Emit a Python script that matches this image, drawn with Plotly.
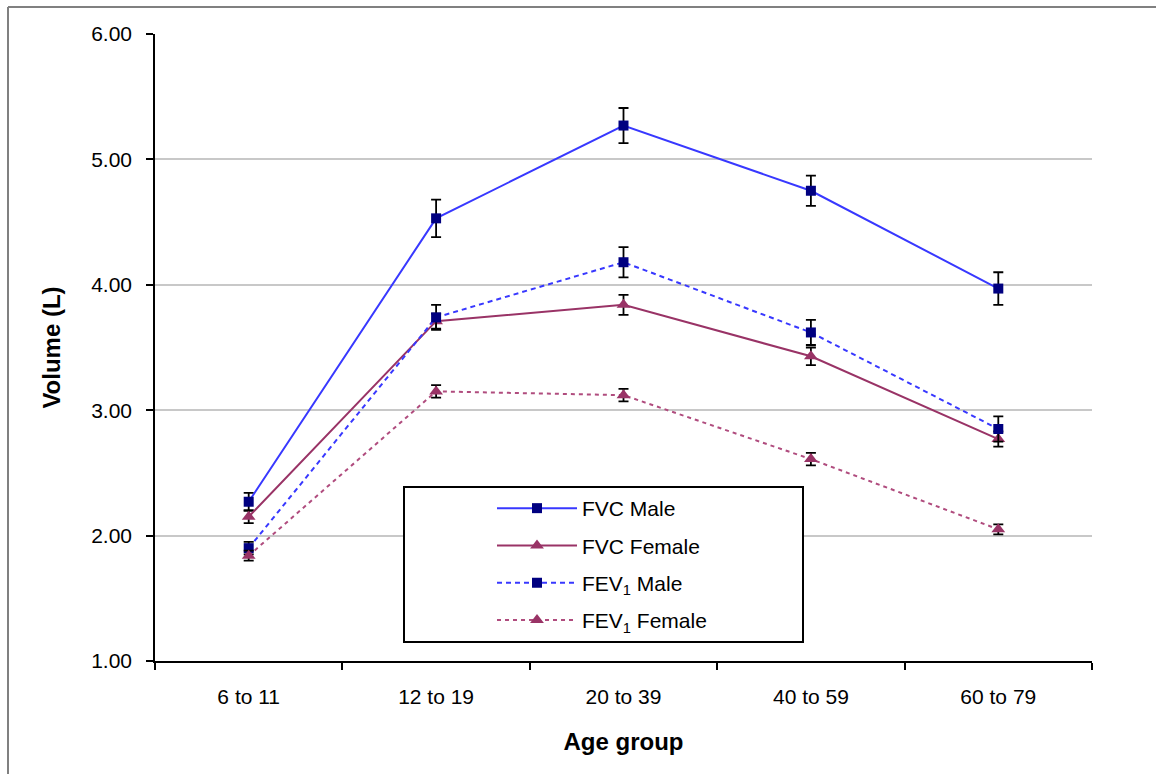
import plotly.graph_objects as go

age_groups = ["6 to 11", "12 to 19", "20 to 39", "40 to 59", "60 to 79"]

fvc_male = [2.27, 4.53, 5.27, 4.75, 3.97]
fvc_male_err = [0.07, 0.15, 0.14, 0.12, 0.13]

fvc_female = [2.15, 3.71, 3.84, 3.43, 2.77]
fvc_female_err = [0.05, 0.06, 0.08, 0.07, 0.06]

fev1_male = [1.90, 3.74, 4.18, 3.62, 2.85]
fev1_male_err = [0.05, 0.10, 0.12, 0.10, 0.10]

fev1_female = [1.84, 3.15, 3.12, 2.61, 2.05]
fev1_female_err = [0.04, 0.05, 0.05, 0.05, 0.04]

y_ticks = [1, 2, 3, 4, 5, 6]

FONT = "Liberation Sans, Arial, sans-serif"

fig = go.Figure()

def add(name, y, err, line_color, dash, marker_symbol, marker_color, msize, group):
    fig.add_trace(go.Scatter(
        x=age_groups, y=y, name=name, mode="lines+markers",
        legendgroup=group,
        line=dict(color=line_color, width=2, dash=dash),
        marker=dict(symbol=marker_symbol, color=marker_color, size=msize,
                    line=dict(width=0)),
        error_y=dict(type="data", array=err, visible=True, color="black",
                     thickness=1.8, width=5),
    ))

add("FVC Male", fvc_male, fvc_male_err, "#3838FF", "solid", "square", "#000080", 10, "a")
add("FVC Female", fvc_female, fvc_female_err, "#993366", "solid", "triangle-up", "#993366", 12, "b")
add("FEV<sub>1</sub> Male", fev1_male, fev1_male_err, "#3838FF", "5px,4px", "square", "#000080", 10, "c")
add("FEV<sub>1</sub> Female", fev1_female, fev1_female_err, "#B04C7E", "4px,4px", "triangle-up", "#993366", 12, "d")

def px_x(px):
    return (px - 155) / 937.0

def px_y(py):
    return (661 - py) / 627.0

shapes = [
    # legend box
    dict(type="rect", xref="paper", yref="paper",
         x0=px_x(404), x1=px_x(803), y0=px_y(642), y1=px_y(487),
         line=dict(color="black", width=2), fillcolor="white", layer="above"),
    # outer frame (top and left edges)
    dict(type="line", xref="paper", yref="paper",
         x0=px_x(8), x1=px_x(1160), y0=px_y(7), y1=px_y(7),
         line=dict(color="#808080", width=2)),
    dict(type="line", xref="paper", yref="paper",
         x0=px_x(8), x1=px_x(8), y0=px_y(7), y1=px_y(780),
         line=dict(color="#808080", width=2)),
]

fig.update_layout(
    width=1156, height=774,
    margin=dict(l=155, r=64, t=34, b=113),
    paper_bgcolor="white", plot_bgcolor="white",
    font=dict(family=FONT, color="black"),
    shapes=shapes,
    showlegend=True,
    legend=dict(
        x=px_x(492), y=px_y(488), xanchor="left", yanchor="top",
        bgcolor="rgba(0,0,0,0)", borderwidth=0,
        font=dict(family=FONT, size=21, color="black"),
        tracegroupgap=7, itemwidth=80,
    ),
    xaxis=dict(
        type="category", range=[-0.5, 4.5],
        showline=True, linecolor="black", linewidth=1.5,
        ticks="outside", ticklen=7, tickcolor="black", tickwidth=1.5,
        tickson="boundaries", showgrid=False,
        ticklabelstandoff=16,
        tickfont=dict(family=FONT, size=21, color="black"),
        title=dict(text="<b>Age group</b>", font=dict(family=FONT, size=24, color="black"), standoff=26),
    ),
    yaxis=dict(
        range=[1, 6], tickvals=y_ticks, tickformat=".2f",
        showline=True, linecolor="black", linewidth=1.5,
        ticks="outside", ticklen=7, tickcolor="black", tickwidth=1.5,
        showgrid=True, gridcolor="#C8C8C8", gridwidth=2,
        zeroline=False,
        ticklabelstandoff=10,
        tickfont=dict(family=FONT, size=21, color="black"),
        title=dict(text="<b>Volume (L)</b>", font=dict(family=FONT, size=24, color="black"), standoff=24),
    ),
)

fig.write_html("out.html", config={"displayModeBar": False},
               post_script="document.body.style.margin='0px';")
